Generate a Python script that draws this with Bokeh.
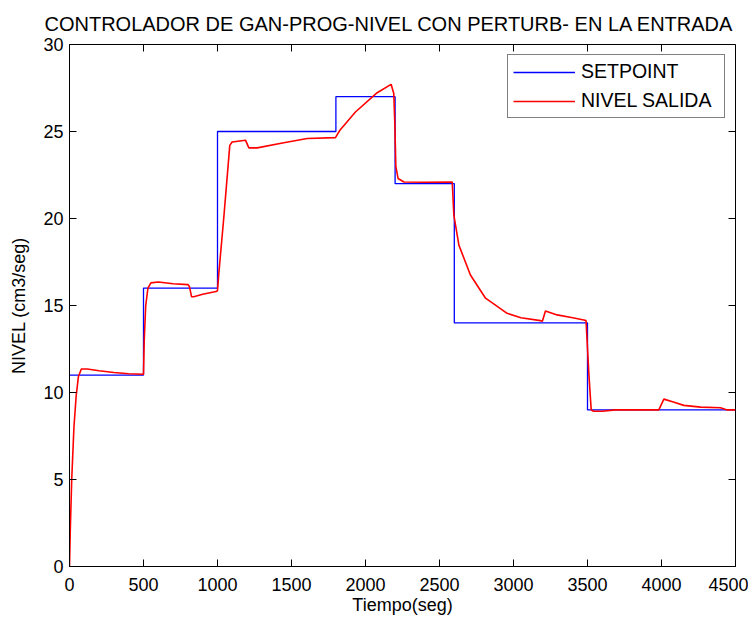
import math
from bokeh.plotting import figure
from bokeh.models import Range1d, FixedTicker, Legend, LegendItem
from bokeh.embed import file_html
from bokeh.resources import INLINE

# Setpoint (step, held after each time)
sp_time = [0, 500, 1000, 1800, 2200, 2600, 3500, 4500]
sp_level = [11, 16, 25, 27, 22, 14, 9, 9]

# Measured output level
out_time = [0, 5, 15, 30, 45, 60, 80, 120, 200, 300, 400, 500,
            505, 515, 530, 550, 600, 700, 800, 810, 825, 840, 900, 990, 1000,
            1009, 1043, 1083, 1099, 1189, 1212, 1268, 1448, 1606, 1797,
            1827, 1932, 2079, 2173, 2191, 2198, 2205, 2220, 2260, 2400, 2586,
            2597, 2631, 2709, 2811, 2957, 3050, 3182, 3195, 3216, 3295, 3400, 3475, 3490,
            3509, 3525, 3540, 3600, 3689, 3982, 4016, 4080, 4151, 4264, 4399, 4444, 4500]
out_level = [0.0, 2.0, 5.0, 8.0, 9.8, 10.9, 11.35, 11.35, 11.25, 11.15, 11.08, 11.05,
             13.0, 15.0, 16.0, 16.3, 16.35, 16.25, 16.2, 16.1, 15.5, 15.5, 15.65, 15.8, 15.85,
             16.85, 20.1, 24.2, 24.4, 24.5, 24.06, 24.06, 24.35, 24.6, 24.65,
             25.07, 26.12, 27.23, 27.71, 27.18, 25.5, 23.0, 22.3, 22.1, 22.08, 22.1,
             20.2, 18.47, 16.75, 15.42, 14.55, 14.3, 14.13, 14.1, 14.69, 14.46, 14.3, 14.17, 14.13,
             11.1, 9.0, 8.92, 8.92, 9.0, 9.0, 9.62, 9.45, 9.26, 9.16, 9.12, 9.0, 9.0]

x_ticks = [0, 500, 1000, 1500, 2000, 2500, 3000, 3500, 4000, 4500]
y_ticks = [0, 5, 10, 15, 20, 25, 30]
x_min, x_max = 0, 4500
y_min, y_max = 0, 30

FONT = "Liberation Sans"
TICK = 7

p = figure(width=748, height=617,
           x_range=Range1d(x_min, x_max), y_range=Range1d(y_min, y_max),
           output_backend="svg", toolbar_location=None,
           min_border_left=69, min_border_right=13, min_border_top=44, min_border_bottom=50,
           title="CONTROLADOR DE GAN-PROG-NIVEL CON PERTURB- EN LA ENTRADA")
p.background_fill_color = "white"
p.border_fill_color = "white"
p.outline_line_color = "black"
p.outline_line_width = 1
p.xgrid.visible = False
p.ygrid.visible = False

p.title.align = "left"
p.title.offset = -25
p.title.text_font = FONT
p.title.text_font_size = "20px"
p.title.text_font_style = "normal"
p.title.text_color = "black"
p.title.standoff = 19

for ax in p.xaxis + p.yaxis:
    ax.major_tick_in = TICK
    ax.major_tick_out = 0
    ax.minor_tick_in = 0
    ax.minor_tick_out = 0
    ax.axis_line_color = "black"
    ax.major_tick_line_color = "black"
    ax.major_label_text_font = FONT
    ax.major_label_text_font_size = "18px"
    ax.major_label_text_color = "black"
    ax.axis_label_text_font = FONT
    ax.axis_label_text_font_size = "18px"
    ax.axis_label_text_font_style = "normal"
    ax.axis_label_text_color = "black"

p.xaxis.ticker = FixedTicker(ticks=x_ticks)
p.yaxis.ticker = FixedTicker(ticks=y_ticks)
p.xaxis.axis_label = "Tiempo(seg)"
p.yaxis.axis_label = "NIVEL (cm3/seg)"
p.xaxis.major_label_standoff = 11
p.xaxis.axis_label_standoff = 1
p.yaxis.major_label_standoff = 6
p.yaxis.axis_label_standoff = 11

# inward tick marks on the top and right edges of the box
p.ray(x=x_ticks, y=[y_max] * len(x_ticks), length=TICK, length_units="screen",
      angle=-math.pi / 2, line_color="black", line_width=1)
p.ray(x=[x_max] * len(y_ticks), y=y_ticks, length=TICK, length_units="screen",
      angle=math.pi, line_color="black", line_width=1)

r_sp = p.step(sp_time, sp_level, mode="after", line_color="#0000ff", line_width=1.3)
r_out = p.line(out_time, out_level, line_color="#ff0000", line_width=1.6)

legend = Legend(items=[LegendItem(label="SETPOINT", renderers=[r_sp]),
                       LegendItem(label="NIVEL SALIDA", renderers=[r_out])],
                location="top_right")
legend.border_line_color = "black"
legend.border_line_width = 1.3
legend.label_text_font = FONT
legend.label_text_font_size = "19.5px"
legend.label_text_color = "black"
legend.padding = 5
legend.spacing = 6
legend.margin = 10
legend.glyph_width = 62
legend.glyph_height = 20
legend.label_height = 20
legend.label_width = 138
legend.label_standoff = 6
legend.background_fill_alpha = 1
p.add_layout(legend, "center")

open("out.html", "w").write(file_html(p, INLINE))
